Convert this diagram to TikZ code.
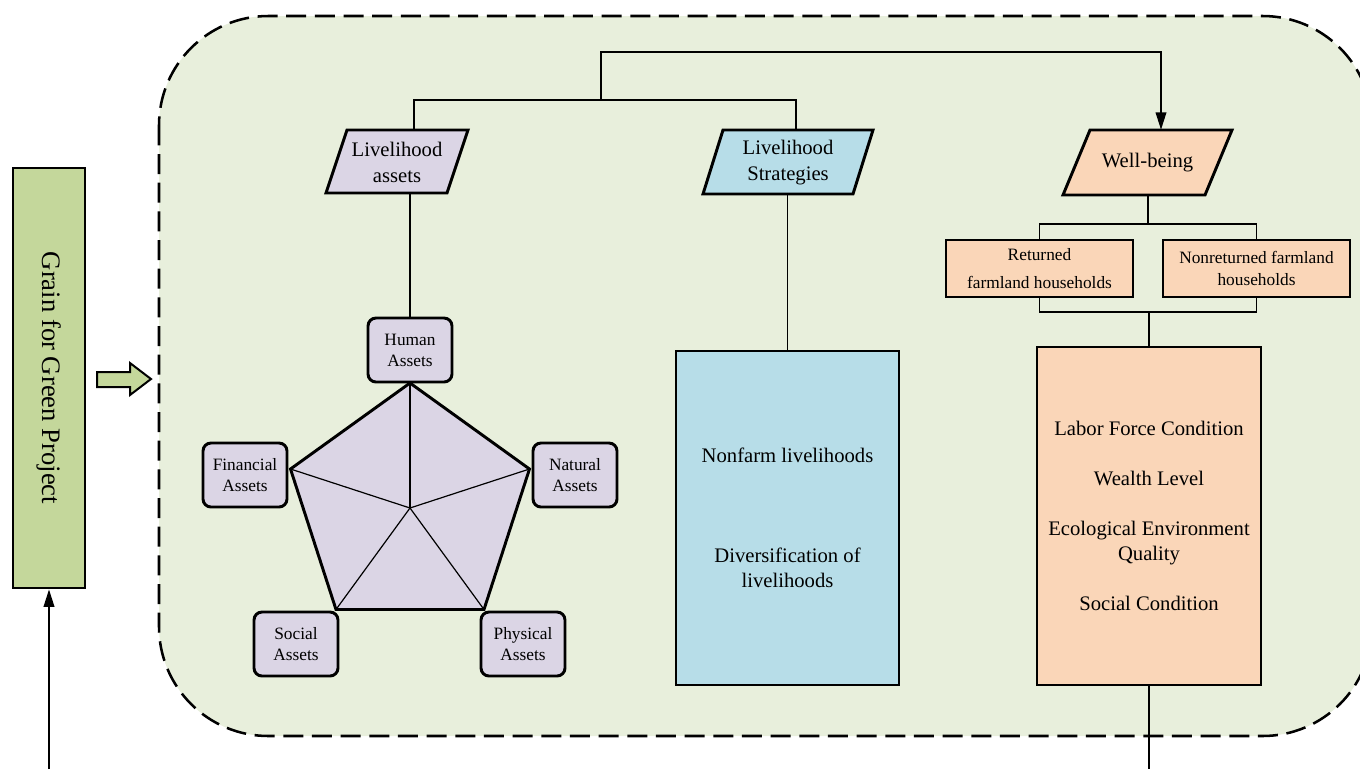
\documentclass[tikz,border=0pt]{standalone}
\usepackage{fontspec}
\setmainfont{Liberation Serif}
\newfontfamily\tnr{Liberation Serif}
\usetikzlibrary{arrows.meta,calc}
\definecolor{bgreen}{HTML}{E8EFDC}
\definecolor{ggreen}{HTML}{C4D79B}
\definecolor{lav}{HTML}{DBD5E5}
\definecolor{aqua}{HTML}{B7DDE8}
\definecolor{peach}{HTML}{FAD6B8}
\begin{document}
\begin{tikzpicture}[x=0.75pt,y=-0.75pt,
  conn/.style={line width=1.1pt, draw=black},
  arr/.style={conn,-{Triangle[length=13pt,width=8pt]}},
  thickline/.style={line width=2.2pt, line join=miter},
  assetbox/.style={draw, line width=2.2pt, fill=lav, rounded corners=6pt, minimum width=63pt, minimum height=48pt, inner sep=0pt, align=center, font=\tnr\fontsize{13}{15.75}\selectfont},
  paratext/.style={inner sep=0pt, align=center, font=\tnr\fontsize{15.5}{19.5}\selectfont},
  para/.style={draw, line width=2.2pt, line join=miter},
  bigbox/.style={draw, line width=2.2pt, inner sep=0pt, align=center, font=\tnr\fontsize{15.5}{18.75}\selectfont},
  hhbox/.style={draw, line width=2.2pt, fill=peach, minimum width=140.25pt, minimum height=42.75pt, inner sep=0pt, align=center},
  container/.style={draw, fill=bgreen, line width=1.9pt, dash pattern=on 15pt off 6.5pt, rounded corners=82pt}
]
\useasboundingbox (0,0) rectangle (1360,769);
\clip (0,0) rectangle (1360,769);

% container
\path[container] (159,16) rectangle (1372,736);

% left project box
\node[draw, line width=2.2pt, fill=ggreen, minimum width=54pt, minimum height=315pt, inner sep=0pt,
      font=\tnr\fontsize{20}{24}\selectfont] (grain) at (49,378) {\rotatebox{-90}{Grain for Green Project}};
\coordinate (g0) at (49,769);
\draw[arr] (g0) -- (grain.south);

% block arrow
\draw[fill=ggreen, line width=1.5pt, line join=miter]
  (97,372) -- (130,372) -- (130,363) -- (151,379) -- (130,395) -- (130,387) -- (97,387) -- cycle;

% parallelograms
\draw[para, fill=lav] (326,193) -- (347,130) -- (468,130) -- (447,193) -- cycle;
\node[paratext, minimum width=106.5pt, minimum height=47.25pt] (la) at (397,162.5) {Livelihood\\assets};
\draw[para, fill=aqua] (703,194) -- (723,130) -- (873,130) -- (853,194) -- cycle;
\node[paratext, minimum width=127.5pt, minimum height=48pt] (ls) at (788,163) {Livelihood\\Strategies};
\draw[para, fill=peach] (1063,195) -- (1090,130) -- (1232,130) -- (1205,195) -- cycle;
\node[paratext, minimum width=126.75pt, minimum height=48.75pt] (wb) at (1147.5,162.5) {Well-being};

% top connectors
\coordinate (t1) at (414,100);
\coordinate (t2) at (796,100);
\coordinate (j1) at (601,100);
\coordinate (j2) at (601,52);
\coordinate (t3) at (1161,52);
\draw[conn] (t1 |- la.north) -- (t1) -- (t2) -- (t2 |- ls.north);
\draw[arr] (j1) -- (j2) -- (t3) -- (t3 |- wb.north);

% asset boxes
\node[assetbox] (human) at (410,350) {Human\\Assets};
\node[assetbox] (fin) at (245,475) {Financial\\Assets};
\node[assetbox] (nat) at (575,475) {Natural\\Assets};
\node[assetbox] (soc) at (296,644) {Social\\Assets};
\node[assetbox] (phy) at (523,644) {Physical\\Assets};
\draw[conn] (la.south -| human.north) -- (human.north);

% pentagon
\coordinate (pc) at (410,508);
\coordinate (p1) at (410,383);
\coordinate (p2) at (529.5,469);
\coordinate (p3) at (484,609.5);
\coordinate (p4) at (336,609.5);
\coordinate (p5) at (290.5,469);
\draw[thickline, fill=lav] (p1) -- (p2) -- (p3) -- (p4) -- (p5) -- cycle;
\foreach \p in {p1,p2,p3,p4,p5} \draw[line width=0.9pt] (pc) -- (\p);

% strategies box
\node[bigbox, fill=aqua, minimum width=167.25pt, minimum height=250.5pt] (blue) at (787.5,518)
  {Nonfarm livelihoods\\[56.25pt]Diversification of\\livelihoods};
\draw[conn] (ls.south -| blue.north) -- (blue.north);

% well-being branch
\node[hhbox, font=\tnr\fontsize{13}{21}\selectfont] (ret) at (1039.5,268.5) {Returned\\farmland households};
\node[hhbox, font=\tnr\fontsize{13}{16.5}\selectfont] (non) at (1256.5,268.5) {Nonreturned farmland\\households};
\coordinate (b1) at (1148,224);
\coordinate (b2) at (1149,312);
\draw[conn] (wb.south -| b1) -- (b1);
\draw[conn] (ret.north) |- (b1) -| (non.north);
\draw[conn] (ret.south) |- (b2) -| (non.south);

\node[bigbox, fill=peach, minimum width=168pt, minimum height=253.5pt] (orange) at (1149,516)
  {Labor Force Condition\\[18.75pt]Wealth Level\\[18.75pt]Ecological Environment\\Quality\\[18.75pt]Social Condition};
\draw[conn] (b2) -- (orange.north);
\coordinate (o0) at (1149,769);
\draw[conn] (orange.south) -- (o0);
\end{tikzpicture}
\end{document}
